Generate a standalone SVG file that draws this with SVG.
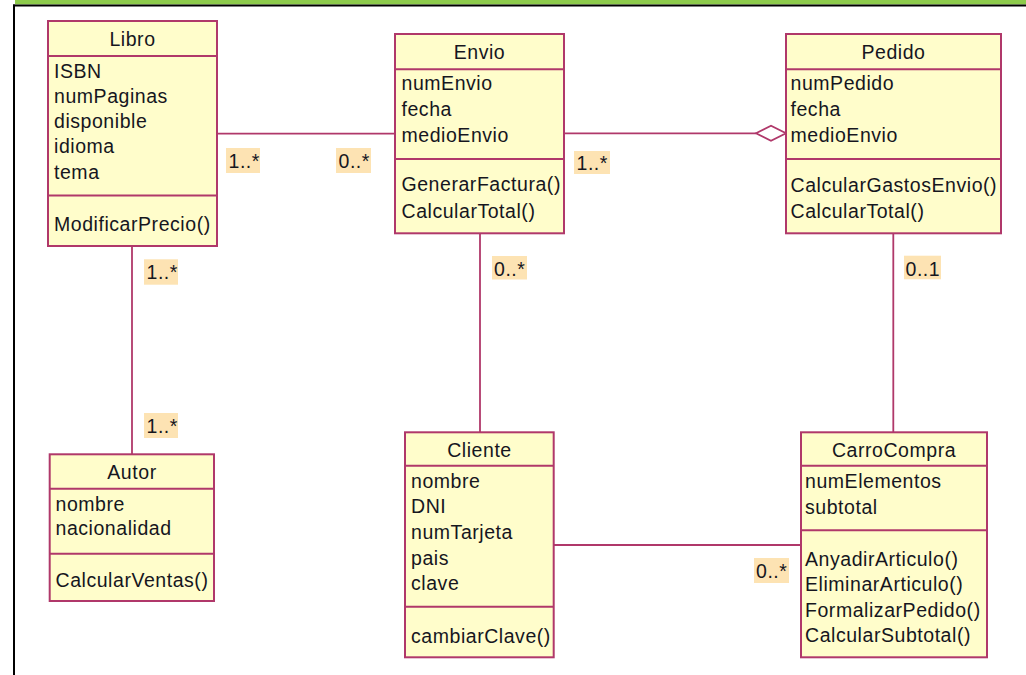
<svg xmlns="http://www.w3.org/2000/svg" width="1026" height="675" viewBox="0 0 1026 675">
<style>
.box{fill:#FFFDCB;stroke:#B0386A;stroke-width:2}
.sep{stroke:#B0386A;stroke-width:2}
.ln{stroke:#B0386A;stroke-width:1.8;fill:none}
text{font-family:"Liberation Sans",Arial,sans-serif;font-size:19.5px;fill:#16161E;letter-spacing:0.55px}
.t{text-anchor:middle}
.lb{fill:#FDE3B3}
</style>
<rect x="0" y="0" width="1026" height="675" fill="#FFFFFF"/>
<rect x="15" y="0" width="1011" height="4.5" fill="#8DCB4B"/>
<rect x="13" y="4.5" width="1013" height="2" fill="#000000"/>
<rect x="13" y="4.5" width="2" height="671" fill="#000000"/>

<g id="connectors">
<line class="ln" x1="217" y1="133.7" x2="395" y2="133.7"/>
<line class="ln" x1="564" y1="133.3" x2="756" y2="133.3"/>
<polygon points="756,133.3 771,125.8 786,133.3 771,140.8" fill="#FFFFFF" stroke="#B0386A" stroke-width="1.8"/>
<line class="ln" x1="132" y1="246" x2="132" y2="454.3"/>
<line class="ln" x1="480" y1="233.3" x2="480" y2="432.3"/>
<line class="ln" x1="893.3" y1="233.3" x2="893.3" y2="432.3"/>
<line class="ln" x1="553.7" y1="545" x2="801" y2="545"/>
<g id="labels">
<rect class="lb" x="226" y="148" width="34" height="25"/><text x="228.5" y="168">1..*</text>
<rect class="lb" x="336" y="148" width="35" height="25"/><text x="338.5" y="168">0..*</text>
<rect class="lb" x="574" y="151" width="36" height="23"/><text x="576.5" y="170">1..*</text>
<rect class="lb" x="144" y="259.3" width="34" height="25.4"/><text x="146.5" y="279.3">1..*</text>
<rect class="lb" x="144" y="413" width="34" height="25"/><text x="146.5" y="433">1..*</text>
<rect class="lb" x="492" y="256" width="35" height="23.5"/><text x="494" y="275.5">0..*</text>
<rect class="lb" x="904" y="255.7" width="37" height="23.6"/><text x="905.5" y="275.5">0..1</text>
<rect class="lb" x="754" y="558" width="35" height="25"/><text x="756" y="578">0..*</text>
</g>
</g>

<g id="Libro">
<rect class="box" x="48" y="21" width="169" height="225"/>
<line class="sep" x1="48" y1="56" x2="217" y2="56"/>
<line class="sep" x1="48" y1="195.5" x2="217" y2="195.5"/>
<text class="t" x="132.5" y="45.5">Libro</text>
<text x="54" y="77.5">ISBN</text>
<text x="54" y="102.8">numPaginas</text>
<text x="54" y="128.1">disponible</text>
<text x="54" y="153.4">idioma</text>
<text x="54" y="178.7">tema</text>
<text x="54" y="230.5">ModificarPrecio()</text>
</g>

<g id="Envio">
<rect class="box" x="395" y="34" width="169" height="199.3"/>
<line class="sep" x1="395" y1="69.3" x2="564" y2="69.3"/>
<line class="sep" x1="395" y1="159" x2="564" y2="159"/>
<text class="t" x="479.5" y="59">Envio</text>
<text x="401.5" y="89.5">numEnvio</text>
<text x="401.5" y="115.5">fecha</text>
<text x="401.5" y="141.5">medioEnvio</text>
<text x="401.5" y="191">GenerarFactura()</text>
<text x="401.5" y="217.5">CalcularTotal()</text>
</g>

<g id="Pedido">
<rect class="box" x="786" y="34" width="215" height="199.3"/>
<line class="sep" x1="786" y1="69.3" x2="1001" y2="69.3"/>
<line class="sep" x1="786" y1="159" x2="1001" y2="159"/>
<text class="t" x="893.5" y="59">Pedido</text>
<text x="790.5" y="89.5">numPedido</text>
<text x="790.5" y="115.5">fecha</text>
<text x="790.5" y="141.5">medioEnvio</text>
<text x="790.5" y="191.5">CalcularGastosEnvio()</text>
<text x="790.5" y="217.5">CalcularTotal()</text>
</g>

<g id="Autor">
<rect class="box" x="49.7" y="454.3" width="164.3" height="146.7"/>
<line class="sep" x1="49.7" y1="488.7" x2="214" y2="488.7"/>
<line class="sep" x1="49.7" y1="553.7" x2="214" y2="553.7"/>
<text class="t" x="132" y="479">Autor</text>
<text x="55.5" y="511">nombre</text>
<text x="55.5" y="535">nacionalidad</text>
<text x="55.5" y="587">CalcularVentas()</text>
</g>

<g id="Cliente">
<rect class="box" x="405" y="432.3" width="148.7" height="225"/>
<line class="sep" x1="405" y1="465.7" x2="553.7" y2="465.7"/>
<line class="sep" x1="405" y1="606.7" x2="553.7" y2="606.7"/>
<text class="t" x="479.5" y="456.7">Cliente</text>
<text x="411" y="487.7">nombre</text>
<text x="411" y="513.3">DNI</text>
<text x="411" y="539">numTarjeta</text>
<text x="411" y="564.5">pais</text>
<text x="411" y="590">clave</text>
<text x="411" y="642.7">cambiarClave()</text>
</g>

<g id="CarroCompra">
<rect class="box" x="801" y="432.3" width="186" height="225"/>
<line class="sep" x1="801" y1="465.7" x2="987" y2="465.7"/>
<line class="sep" x1="801" y1="530.3" x2="987" y2="530.3"/>
<text class="t" x="894" y="456.7">CarroCompra</text>
<text x="805" y="488.3">numElementos</text>
<text x="805" y="514">subtotal</text>
<text x="805" y="565.5">AnyadirArticulo()</text>
<text x="805" y="591">EliminarArticulo()</text>
<text x="805" y="616.5">FormalizarPedido()</text>
<text x="805" y="642">CalcularSubtotal()</text>
</g>
</svg>
